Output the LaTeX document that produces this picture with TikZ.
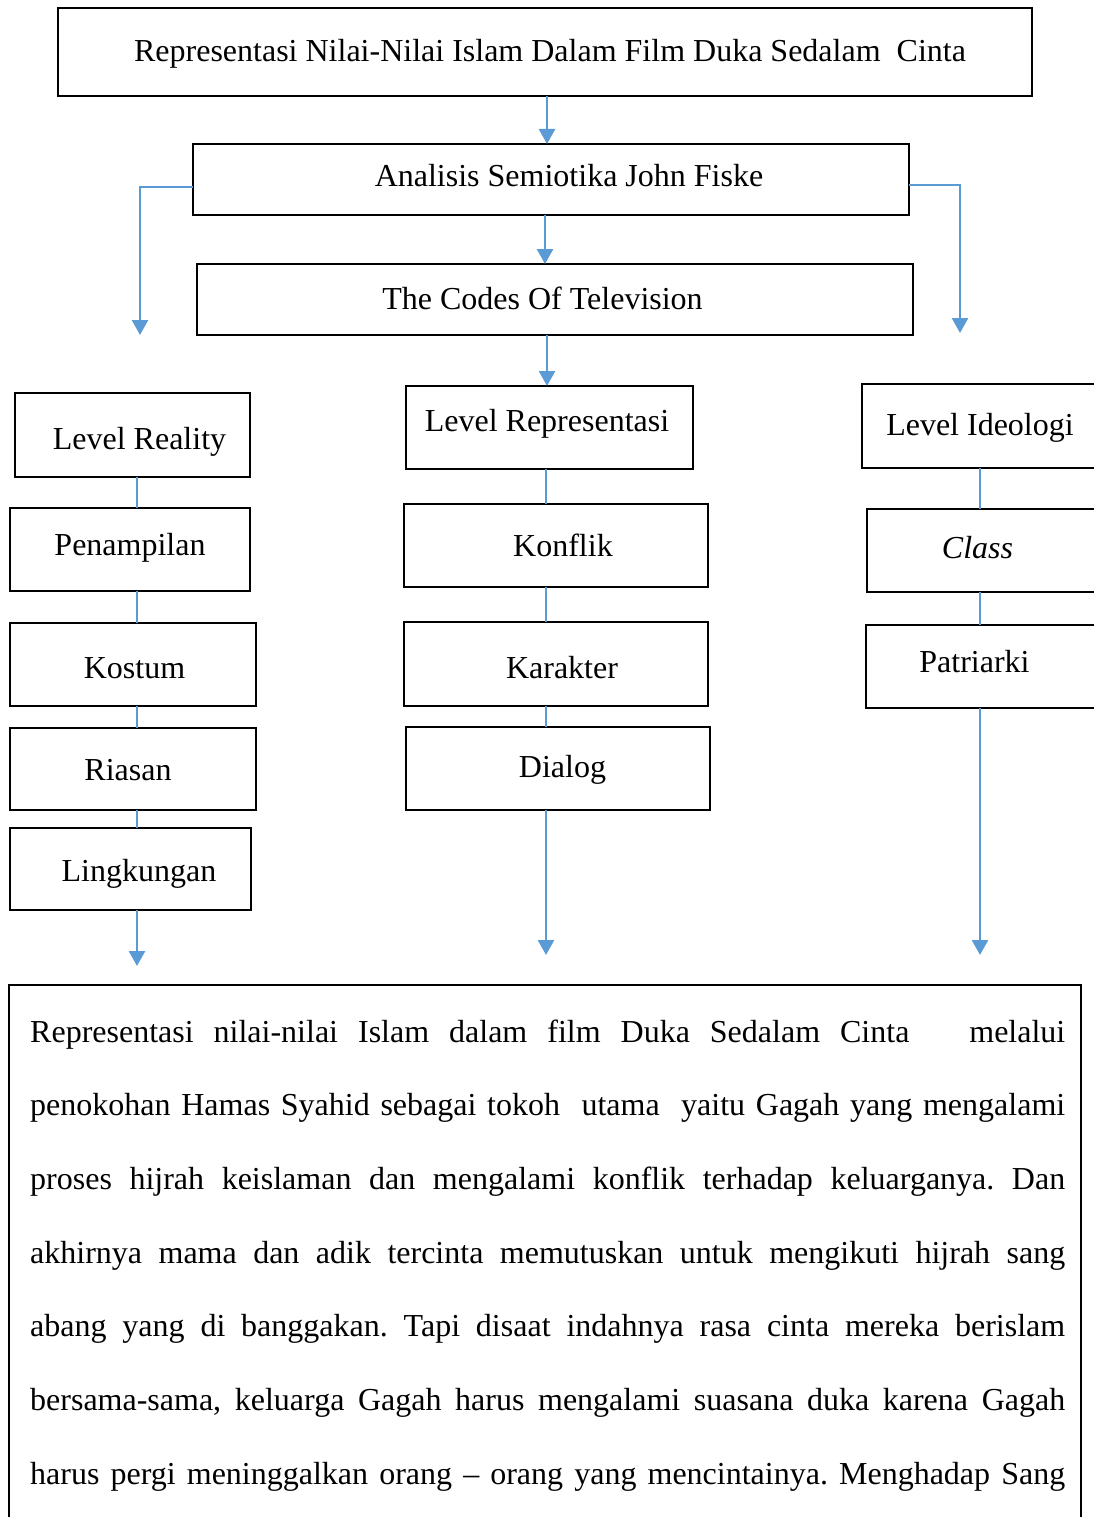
\documentclass[tikz,border=0pt]{standalone}
\usepackage{fontspec}
\setmainfont{Liberation Serif}
\usetikzlibrary{arrows.meta}
\definecolor{conn}{HTML}{5B9BD5}
\tikzset{
  boxe/.style={draw=black, line width=2.5pt, inner sep=0pt, outer sep=0pt},
  lbl/.style={anchor=base, inner sep=0pt, font=\fontsize{32}{38}\selectfont},
  conline/.style={draw=conn, line width=2.5pt},
  conarrow/.style={conline, -{Triangle[width=16pt,length=15pt]}},
}
\newcommand\mybox[5]{%
  \pgfmathsetmacro\cxx{(#2+#4)/2}\pgfmathsetmacro\cyy{(#3+#5)/2}%
  \pgfmathsetmacro\ww{#4-#2}\pgfmathsetmacro\hh{#5-#3}%
  \node[boxe, minimum width=\ww pt, minimum height=\hh pt] (#1) at (\cxx,\cyy) {};}
\begin{document}
\begin{tikzpicture}[x=1pt,y=-1pt]
\useasboundingbox (0,0) rectangle (1094,1517);
\clip (0,0) rectangle (1094,1517);
\fill[white] (0,0) rectangle (1094,1517);
% boxes
\mybox{title}{58}{8}{1032}{96}
\mybox{analisis}{193}{144}{909}{215}
\mybox{codes}{197}{264}{913}{335}
\mybox{lr}{15}{393}{250}{477}
\mybox{pen}{10}{508}{250}{591}
\mybox{kos}{10}{623}{256}{706}
\mybox{rias}{10}{728}{256}{810}
\mybox{ling}{10}{828}{251}{910}
\mybox{lrep}{406}{386}{693}{469}
\mybox{konf}{404}{504}{708}{587}
\mybox{kar}{404}{622}{708}{706}
\mybox{dia}{406}{727}{710}{810}
\mybox{lid}{862}{384}{1110}{468}
\mybox{cls}{867}{509}{1110}{592}
\mybox{pat}{866}{625}{1110}{708}
\mybox{body}{9}{985}{1081}{1540}
% labels
\node[lbl] (t-title) at (550,62) {Representasi Nilai-Nilai Islam Dalam Film Duka Sedalam\ \ Cinta};
\node[lbl] (t-analisis) at (569,186) {Analisis Semiotika John Fiske};
\node[lbl] (t-codes) at (542.5,309) {The Codes Of Television};
\node[lbl] (t-lr) at (139.5,449) {Level Reality};
\node[lbl] (t-pen) at (130,555) {Penampilan};
\node[lbl] (t-kos) at (134.5,678) {Kostum};
\node[lbl] (t-rias) at (128,780) {Riasan};
\node[lbl] (t-ling) at (139,881) {Lingkungan};
\node[lbl] (t-lrep) at (547,431) {Level Representasi};
\node[lbl] (t-konf) at (563,556) {Konflik};
\node[lbl] (t-kar) at (562,678) {Karakter};
\node[lbl] (t-dia) at (562.5,777) {Dialog};
\node[lbl] (t-lid) at (980,435) {Level Ideologi};
\node[lbl] (t-cls) at (977.5,558) {\textit{Class}};
\node[lbl] (t-pat) at (974.5,672) {Patriarki};
% body text
\node[lbl, anchor=base west] (b1) at (30,1042) {\frenchspacing\makebox[1035pt][s]{Representasi nilai-nilai Islam dalam film Duka Sedalam Cinta\ \ \ melalui}};
\node[lbl, anchor=base west] (b2) at (30,1115.7) {\frenchspacing\makebox[1035pt][s]{penokohan Hamas Syahid sebagai tokoh\ \ utama\ \ yaitu Gagah yang mengalami}};
\node[lbl, anchor=base west] (b3) at (30,1189.4) {\frenchspacing\makebox[1035pt][s]{proses hijrah keislaman dan mengalami konflik terhadap keluarganya. Dan}};
\node[lbl, anchor=base west] (b4) at (30,1263.1) {\frenchspacing\makebox[1035pt][s]{akhirnya mama dan adik tercinta memutuskan untuk mengikuti hijrah sang}};
\node[lbl, anchor=base west] (b5) at (30,1336.8) {\frenchspacing\makebox[1035pt][s]{abang yang di banggakan. Tapi disaat indahnya rasa cinta mereka berislam}};
\node[lbl, anchor=base west] (b6) at (30,1410.5) {\frenchspacing\makebox[1035pt][s]{bersama-sama, keluarga Gagah harus mengalami suasana duka karena Gagah}};
\node[lbl, anchor=base west] (b7) at (30,1484.2) {\frenchspacing\makebox[1035pt][s]{harus pergi meninggalkan orang – orang yang mencintainya. Menghadap Sang}};
% connector helper coordinates
\coordinate (xa) at (547,0);
\coordinate (xb) at (545,0);
\coordinate (xl) at (137,0);
\coordinate (xm) at (546,0);
\coordinate (xr) at (980,0);
\coordinate (yl) at (0,187);
\coordinate (yr) at (0,185);
\coordinate (lend) at (140,335);
\coordinate (rend) at (960,333);
\coordinate (lend2) at (137,966);
\coordinate (mend) at (546,955);
\coordinate (rend2) at (980,955);
% top arrows
\draw[conarrow] (title.south -| xa) -- (analisis.north -| xa);
\draw[conarrow] (analisis.south -| xb) -- (codes.north -| xb);
\draw[conarrow] (codes.south -| xa) -- (lrep.north -| xa);
\draw[conarrow] (analisis.west |- yl) -| (lend);
\draw[conarrow] (analisis.east |- yr) -| (rend);
% left chain
\draw[conline] (lr.south -| xl) -- (pen.north -| xl);
\draw[conline] (pen.south -| xl) -- (kos.north -| xl);
\draw[conline] (kos.south -| xl) -- (rias.north -| xl);
\draw[conline] (rias.south -| xl) -- (ling.north -| xl);
\draw[conarrow] (ling.south -| xl) -- (lend2);
% middle chain
\draw[conline] (lrep.south -| xm) -- (konf.north -| xm);
\draw[conline] (konf.south -| xm) -- (kar.north -| xm);
\draw[conline] (kar.south -| xm) -- (dia.north -| xm);
\draw[conarrow] (dia.south -| xm) -- (mend);
% right chain
\draw[conline] (lid.south -| xr) -- (cls.north -| xr);
\draw[conline] (cls.south -| xr) -- (pat.north -| xr);
\draw[conarrow] (pat.south -| xr) -- (rend2);
\end{tikzpicture}
\end{document}
